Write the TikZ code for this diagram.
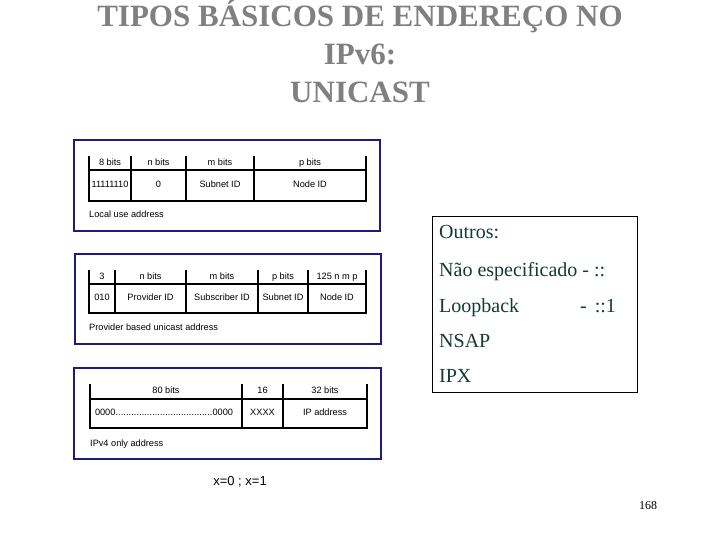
\documentclass[tikz,border=0pt]{standalone}
\usepackage{fontspec}
\setmainfont{Liberation Serif}
\newfontfamily\tabfont{Liberation Sans}
\usetikzlibrary{positioning}
\definecolor{frameblue}{RGB}{28,28,128}
\definecolor{titlegray}{RGB}{128,128,128}
\definecolor{outrosgreen}{RGB}{22,58,52}
\newcommand{\zeros}{\makebox[138pt]{0000\xleaders\hbox{.}\hfill0000}}

\tikzset{
  x=1pt, y=-1pt,
  frame/.style={draw=frameblue, line width=2.2pt},
  sep/.style={line width=2pt},
  rule/.style={line width=2.6pt},
  cell/.style={font=\tabfont\fontsize{9.2}{11}\selectfont, inner sep=0pt,
    text height=6.6pt, text depth=1.9pt},
  capt/.style={cell, anchor=west},
  title/.style={font=\bfseries\fontsize{31}{37}\selectfont, text=titlegray, anchor=base},
  outros/.style={font=\fontsize{20}{24}\selectfont, text=outrosgreen, anchor=base west, inner sep=0pt},
}

\begin{document}
\begin{tikzpicture}
    \useasboundingbox[fill=white] (0,0) rectangle (720,540);

    % title
    \node[title] (t1) at (360,27) {TIPOS BÁSICOS DE ENDEREÇO NO};
    \node[title] (t2) at (360,65) {IPv6:};
    \node[title] (t3) at (360,103) {UNICAST};

    % local use address
    \draw[frame] (74,140) rectangle (380,231);
    \foreach \x in {89,131,186,254,366}
        \draw[sep] (\x,156) -- (\x,201);
    \draw[rule] (88,170) -- (367,170);
    \draw[rule] (88,201) -- (367,201);
    \node[cell] (a1) at (110,163) {8 bits};
    \node[cell] (a2) at (158.5,163) {n bits};
    \node[cell] (a3) at (220,163) {m bits};
    \node[cell] (a4) at (310,163) {p bits};
    \node[cell] (b1) at (110,185.5) {11111110};
    \node[cell] (b2) at (158.5,185.5) {0};
    \node[cell] (b3) at (220,185.5) {Subnet ID};
    \node[cell] (b4) at (310,185.5) {Node ID};
    \node[capt] (local) at (89,215) {Local use address};

    % provider based unicast address
    \draw[frame] (75,254) rectangle (381,344);
    \foreach \x in {89,115,186,258,308,366}
        \draw[sep] (\x,270) -- (\x,313);
    \draw[rule] (88,284) -- (367,284);
    \draw[rule] (88,313) -- (367,313);
    \node[cell] (c1) at (102,277) {3};
    \node[cell] (c2) at (150.5,277) {n bits};
    \node[cell] (c3) at (222,277) {m bits};
    \node[cell] (c4) at (283,277) {p bits};
    \node[cell] (c5) at (337,277) {125 n m p};
    \node[cell] (d1) at (102,298.5) {010};
    \node[cell] (d2) at (150.5,298.5) {Provider ID};
    \node[cell] (d3) at (222,298.5) {Subscriber ID};
    \node[cell] (d4) at (283,298.5) {Subnet ID};
    \node[cell] (d5) at (337,298.5) {Node ID};
    \node[capt] (provider) at (89,328) {Provider based unicast address};

    % ipv4 only address
    \draw[frame] (74,368) rectangle (381,459);
    \foreach \x in {90,242,283,367}
        \draw[sep] (\x,384) -- (\x,428);
    \draw[rule] (89,399) -- (368,399);
    \draw[rule] (89,428) -- (368,428);
    \node[cell] (e1) at (166,391) {80 bits};
    \node[cell] (e2) at (262.5,391) {16};
    \node[cell] (e3) at (325,391) {32 bits};
    \node[cell] (f1) at (164,413) {\zeros};
    \node[cell] (f2) at (262.5,413) {XXXX};
    \node[cell] (f3) at (325,413) {IP address};
    \node[capt] (ipv4) at (90,444) {IPv4 only address};

    \node[cell, font=\tabfont\fontsize{13}{15}\selectfont, text height=9pt, text depth=2pt] (xval) at (240,482) {x=0 ; x=1};

    % outros
    \draw[line width=1pt] (432,217) rectangle (637,392);
    \node[outros] (o1) at (439,239) {Outros:};
    \node[outros] (o2) at (439,276) {Não especificado - ::};
    \node[outros] (o3) at (439,312) {Loopback\hspace{61pt}-\hspace{8pt}::1};
    \node[outros] (o4) at (439,347) {NSAP};
    \node[outros] (o5) at (439,382) {IPX};

    \node[font=\fontsize{12}{14}\selectfont, inner sep=0pt] (page) at (648,506) {168};
\end{tikzpicture}
\end{document}
